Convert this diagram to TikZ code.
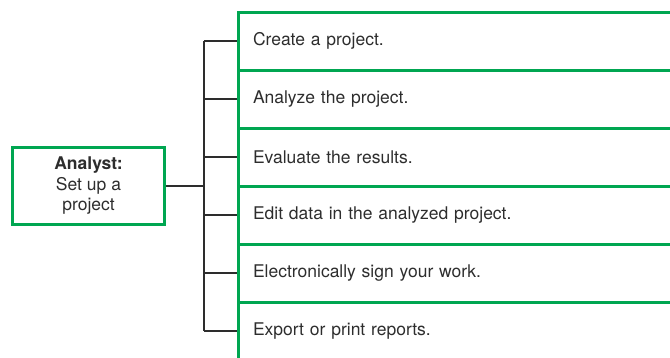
\documentclass[tikz,border=0pt]{standalone}
\usepackage{fontspec}
\setmainfont{TeX Gyre Heros}
\usetikzlibrary{positioning}
\definecolor{boxgreen}{RGB}{0,166,81}
\definecolor{treegray}{RGB}{45,45,45}

\begin{document}
\begin{tikzpicture}[x=1pt,y=-1pt,node distance=58pt,
    every node/.style={font=\fontsize{17.5}{20.5}\selectfont,text=treegray},
    task/.style={draw=boxgreen,line width=3pt,outer sep=0pt,minimum height=58pt,
      text width=440pt,inner xsep=15pt,align=left},
    role/.style={draw=boxgreen,line width=3pt,minimum width=152pt,minimum height=77pt,
      align=center},
    tree/.style={draw=treegray,line width=1.6pt}]
    \clip (0,0) rectangle (670,357);
    \node[role] (analyst) at (88.5,186) {\textbf{Analyst:}\\Set up a\\project};
    \node[task,anchor=west] (t1) at (238,41) {Create a project.};
    \node[task] (t2) [below of=t1] {Analyze the project.};
    \node[task] (t3) [below of=t2] {Evaluate the results.};
    \node[task] (t4) [below of=t3] {Edit data in the analyzed project.};
    \node[task] (t5) [below of=t4] {Electronically sign your work.};
    \node[task] (t6) [below of=t5] {Export or print reports.};
    \coordinate (bus) at (204,186);

    \path[tree]
    (analyst.east) -- (bus)
    (t1.west -| bus) -- (t6.west -| bus);
    \foreach \i in {1,...,6}
      \draw[tree,shorten >=1.5pt] (t\i.west -| bus) -- (t\i.west);
  \end{tikzpicture}
\end{document}
